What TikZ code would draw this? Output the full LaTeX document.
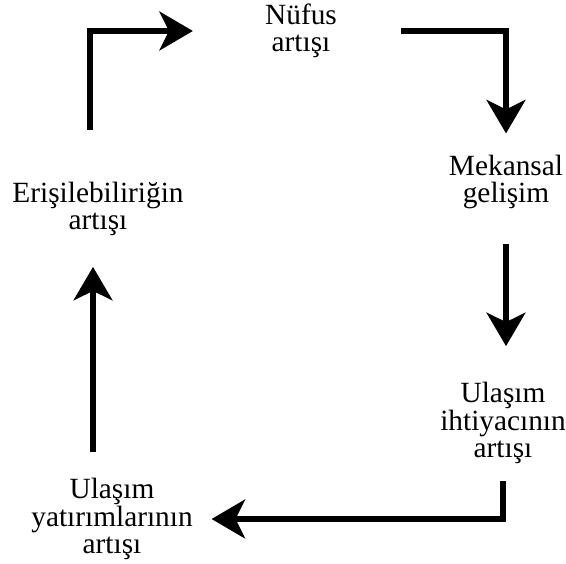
\documentclass[tikz,border=0pt]{standalone}
\usepackage{fontspec}
\setmainfont{Liberation Serif}
\usetikzlibrary{arrows.meta}
\begin{document}
\begin{tikzpicture}[x=0.75pt,y=-0.75pt,
stage/.style={
% The text:
align=center,
inner sep=0pt,
font=\fontsize{22pt}{20.5pt}\selectfont
},
flow/.style={
line width=4.8pt,
-{Stealth[length=25pt,width=29pt,inset=7pt]}
}
]
\useasboundingbox (0,0) rectangle (566,563);
% Stages of the cycle:
\node (nufus) [stage] at (301,31) {Nüfus\\artışı};
\node (mekan) [stage] at (506,182) {Mekansal\\gelişim};
\node (ihtiyac) [stage] at (503,423) {Ulaşım\\ihtiyacının\\artışı};
\node (yatirim) [stage] at (112,519) {Ulaşım\\yatırımlarının\\artışı};
\node (erisim) [stage] at (98,209) {Erişilebiliriğin\\artışı};
% Arrows:
\draw [flow,shorten >=54pt] (erisim.north) ++(-8,-52) |- (nufus.west);
\draw [flow,shorten <=48pt,shorten >=16pt] (nufus.east) -| (mekan.north);
\draw [flow,shorten <=26pt,shorten >=27pt] (mekan.south) -- (mekan.south |- ihtiyac.north);
\draw [flow,shorten <=13pt,shorten >=14pt] (ihtiyac.south) |- (yatirim.east);
\draw [flow,shorten <=19.5pt,shorten >=23pt] ([xshift=-3.75pt]erisim.south |- yatirim.north) -- ([xshift=-3.75pt]erisim.south);
\end{tikzpicture}
\end{document}
